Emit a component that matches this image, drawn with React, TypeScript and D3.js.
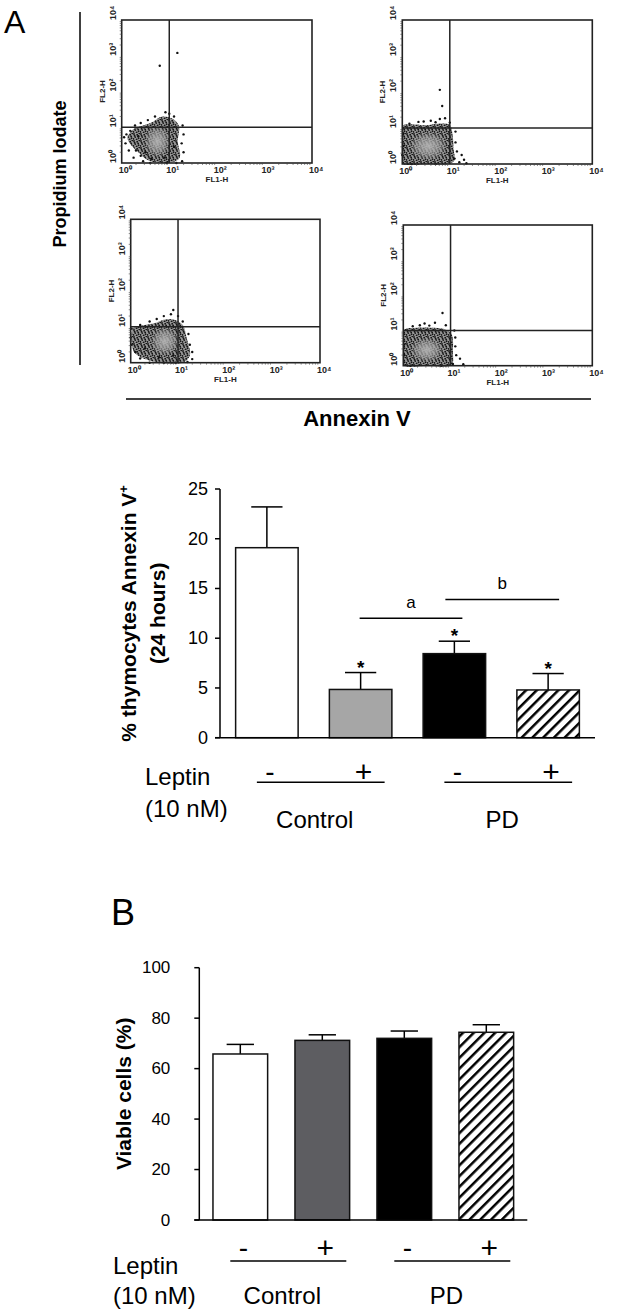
import React from "react";
import * as d3 from "d3";

// bar groups, left to right
const groups = ["Control -", "Control +", "PD -", "PD +"];
const leptinSigns = ["-", "+", "-", "+"];
const conditions = ["Control", "PD"];

// panel A: % thymocytes Annexin V+ (24 hours)
const annexinMean = [19.1, 4.85, 8.45, 4.8];
const annexinSem = [4.1, 1.7, 1.25, 1.65];
const annexinStar = [false, true, true, true];
const annexinTicks = [0, 5, 10, 15, 20, 25];
const sigBars = [
  { label: "a", from: 1, to: 2, level: 12 },
  { label: "b", from: 2, to: 3, level: 13.9 },
];

// panel B: viable cells (%)
const viableMean = [65.8, 71.2, 72.0, 74.4];
const viableSem = [3.8, 2.2, 2.9, 3.0];
const viableTicks = [0, 20, 40, 60, 80, 100];

// flow dot plots (FL1-H vs FL2-H), everything in decades (log10)
const flowDecades = [0, 1, 2, 3, 4];
const flowGate = [1, 1];
const flowHulls = [
  [[0.12, 0.7], [0.25, 0.95], [0.45, 1.05], [0.65, 1.15], [0.85, 1.3], [1.05, 1.25], [1.2, 1.05], [1.18, 0.6], [1.22, 0.15], [1.05, 0.02], [0.7, 0.02], [0.5, 0.12], [0.35, 0.3], [0.2, 0.5]],
  [[0.0, 0.02], [0.0, 1.05], [0.25, 1.1], [0.5, 1.08], [0.75, 1.12], [1.0, 1.08], [1.06, 0.8], [1.08, 0.4], [1.1, 0.1], [0.95, 0.0], [0.5, 0.0]],
  [[0.05, 0.35], [0.05, 0.95], [0.3, 1.05], [0.5, 1.1], [0.7, 1.2], [0.92, 1.2], [1.1, 1.05], [1.18, 0.7], [1.25, 0.2], [1.1, 0.0], [0.6, 0.0], [0.35, 0.08], [0.15, 0.2]],
  [[0.0, 0.02], [0.0, 1.0], [0.3, 1.08], [0.6, 1.08], [0.85, 1.05], [1.02, 0.9], [1.05, 0.4], [1.02, 0.02], [0.5, 0.0]],
];
const flowCores = [
  [0.75, 0.6, 0.28, 0.45],
  [0.55, 0.5, 0.4, 0.4],
  [0.72, 0.6, 0.3, 0.4],
  [0.5, 0.45, 0.35, 0.35],
];
const flowDots = [
  [[0.8, 2.72], [1.17, 3.08], [0.05, 0.72], [0.1, 0.8], [0.08, 0.55], [0.18, 0.9], [0.28, 1.05], [0.4, 1.12], [0.55, 1.2], [0.7, 1.3], [0.92, 1.42], [1.0, 1.38], [1.1, 1.3], [1.28, 1.05], [1.3, 0.8], [1.26, 0.55], [1.3, 0.3], [1.27, 0.05], [1.15, 0.0], [0.95, 0.0], [0.6, 0.0], [0.45, 0.05], [0.4, 0.2], [0.3, 0.35], [0.25, 0.15], [0.5, 0.3], [0.62, 0.12], [0.9, 0.15], [1.1, 0.45], [0.35, 0.75], [0.15, 0.35]],
  [[0.79, 2.06], [0.84, 1.61], [0.79, 1.25], [0.9, 1.27], [0.34, 1.17], [0.6, 1.2], [0.15, 1.12], [0.45, 1.18], [0.7, 1.16], [1.0, 1.15], [1.12, 0.9], [1.12, 0.6], [1.15, 0.35], [1.25, 0.25], [1.3, 0.12], [1.2, 0.05], [1.35, 0.02], [1.1, 0.15], [0.02, 0.5], [0.02, 0.85], [0.0, 0.25], [0.2, 0.0], [0.7, 0.0]],
  [[0.9, 1.47], [0.85, 1.35], [0.7, 1.3], [0.55, 1.22], [0.4, 1.15], [0.2, 1.05], [0.02, 0.95], [0.0, 0.7], [0.02, 0.5], [0.1, 0.3], [0.2, 0.12], [0.3, 0.4], [0.4, 0.0], [0.7, 0.0], [0.95, 0.0], [1.2, 0.02], [1.3, 0.1], [1.3, 0.3], [1.25, 0.5], [1.22, 0.8], [1.1, 1.15], [1.0, 1.3], [0.6, 0.15], [0.9, 0.2]],
  [[0.83, 1.5], [0.67, 1.22], [1.2, 0.2], [1.27, 0.04], [1.1, 0.55], [0.45, 1.2], [0.2, 1.12], [0.35, 1.15], [0.9, 1.15], [1.08, 1.0], [1.1, 0.8], [1.12, 0.3], [1.05, 0.05], [0.02, 0.6], [0.02, 0.3], [0.15, 0.0], [0.8, 0.0], [0.55, 1.14]],
];

const FONT = "'Liberation Sans', Arial, sans-serif";
const sup = ["\u2070", "\u00b9", "\u00b2", "\u00b3", "\u2074"];

// frame of each dot plot: [left, right, top, bottom]
const frames = [
  [121.7, 312, 20, 163],
  [402.3, 592.3, 20, 164],
  [130.7, 320, 219.3, 362.7],
  [403.3, 592.3, 225, 365.7],
];

// speckle layout inside one 7px pattern tile
const speckle = [[1, 1], [4.2, 1.8], [2.3, 4.1], [5.6, 5.2], [0.4, 5.9], [3.6, 6.4], [6.3, 0.3], [5.2, 3.4], [1.6, 2.7]];

function FlowPlot({ i }: { i: number }) {
  const [x0, x1, y0, y1] = frames[i];
  const x = d3.scaleLog().domain([1, 1e4]).range([x0, x1]);
  const y = d3.scaleLog().domain([1, 1e4]).range([y1, y0]);
  const px = (v: number) => x(Math.pow(10, v));
  const py = (v: number) => y(Math.pow(10, v));
  const hull = d3.line().curve(d3.curveCatmullRomClosed)(
    flowHulls[i].map(([a, b]) => [px(a), py(b)] as [number, number])
  );
  const [cx, cy, rx, ry] = flowCores[i];
  const minor: number[] = [];
  for (let d = 0; d < 4; d++) for (let m = 2; m < 10; m++) minor.push(Math.pow(10, d) * m);
  return (
    <g>
      <defs>
        <clipPath id={`clip${i}`}>
          <rect x={x0} y={y0} width={x1 - x0} height={y1 - y0 + 1} />
        </clipPath>
      </defs>
      <g clipPath={`url(#clip${i})`}>
        <path d={hull || ""} fill="url(#speckle)" />
        <ellipse cx={px(cx)} cy={py(cy)} rx={px(cx + rx) - px(cx)} ry={py(cy) - py(cy + ry)} fill="url(#core)" />
      </g>
      {flowDots[i].map(([a, b], k) => (
        <circle key={k} cx={px(a)} cy={py(b)} r={1.2} fill="#111" />
      ))}
      <rect x={x0} y={y0} width={x1 - x0} height={y1 - y0} fill="none" stroke="#222" strokeWidth={1.6} />
      <line x1={px(flowGate[0])} x2={px(flowGate[0])} y1={y0} y2={y1} stroke="#222" strokeWidth={1.5} />
      <line x1={x0} x2={x1} y1={py(flowGate[1])} y2={py(flowGate[1])} stroke="#222" strokeWidth={1.5} />
      {minor.map((m) => (
        <g key={m}>
          <line x1={x(m)} x2={x(m)} y1={y1} y2={y1 + 2} stroke="#444" strokeWidth={0.6} />
          <line x1={x0 - 2} x2={x0} y1={y(m)} y2={y(m)} stroke="#444" strokeWidth={0.6} />
        </g>
      ))}
      {flowDecades.map((d) => (
        <g key={d} fontFamily={FONT} fontWeight="bold" fontSize={9} fill="#222">
          <text x={px(d) - 3} y={y1 + 10}>{"10" + sup[d]}</text>
          <text transform={`translate(${x0 - 6},${py(d)}) rotate(-90)`}>{"10" + sup[d]}</text>
        </g>
      ))}
      <text x={(x0 + x1) / 2} y={y1 + 19} textAnchor="middle" fontFamily={FONT} fontWeight="bold" fontSize={8} fill="#222">FL1-H</text>
      <text transform={`translate(${x0 - 17},${(y0 + y1) / 2}) rotate(-90)`} textAnchor="middle" fontFamily={FONT} fontWeight="bold" fontSize={8} fill="#222">FL2-H</text>
    </g>
  );
}

type BarCfg = {
  mean: number[];
  sem: number[];
  ticks: number[];
  max: number;
  x0: number;
  x1: number;
  yBase: number;
  yTop: number;
  fills: string[];
  tickFont: number;
  tickGap: number;
  title: string[];
  titleX: number[];
  leptinX: number;
  dy: { sign: number; line: number; leptin: number; nm: number; cond: number };
  star?: boolean[];
};

function BarPanel({ cfg }: { cfg: BarCfg }) {
  const x = d3.scaleBand().domain(groups).range([cfg.x0, cfg.x1]).paddingInner(1 / 3).paddingOuter(1 / 6);
  const y = d3.scaleLinear().domain([0, cfg.max]).range([cfg.yBase, cfg.yTop]);
  const bw = x.bandwidth();
  const cx = (k: number) => (x(groups[k]) as number) + bw / 2;
  const titleMid = (cfg.yBase + cfg.yTop) / 2;
  return (
    <g fontFamily={FONT} fill="#000">
      {cfg.mean.map((m, k) => (
        <g key={k}>
          <line x1={cx(k)} x2={cx(k)} y1={y(m)} y2={y(m + cfg.sem[k])} stroke="#000" strokeWidth={1.5} />
          <line x1={cx(k) - bw / 4} x2={cx(k) + bw / 4} y1={y(m + cfg.sem[k])} y2={y(m + cfg.sem[k])} stroke="#000" strokeWidth={1.5} />
          <rect x={x(groups[k])} y={y(m)} width={bw} height={y(0) - y(m)} fill={cfg.fills[k]} stroke="#111" strokeWidth={1.5} />
          {cfg.star && cfg.star[k] && (
            <text x={cx(k)} y={y(m + cfg.sem[k]) + 1} textAnchor="middle" fontWeight="bold" fontSize={19}>*</text>
          )}
        </g>
      ))}
      <line x1={cfg.x0} x2={cfg.x0} y1={cfg.yTop} y2={cfg.yBase} stroke="#000" strokeWidth={1.5} />
      <line x1={cfg.x0 - 5} x2={cfg.x1} y1={cfg.yBase} y2={cfg.yBase} stroke="#000" strokeWidth={1.5} />
      {cfg.ticks.map((t) => (
        <g key={t}>
          <line x1={cfg.x0 - 5} x2={cfg.x0} y1={y(t)} y2={y(t)} stroke="#000" strokeWidth={1.5} />
          <text x={cfg.x0 - cfg.tickGap} y={y(t)} textAnchor="end" dominantBaseline="central" fontSize={cfg.tickFont}>{t}</text>
        </g>
      ))}
      {cfg.title.map((line, k) => (
        <text key={k} transform={`translate(${cfg.titleX[k]},${titleMid}) rotate(-90)`} textAnchor="middle" fontWeight="bold" fontSize={21}>
          {line}
          {k === 0 && cfg.title.length > 1 && <tspan dy={-8} fontSize={13}>+</tspan>}
        </text>
      ))}
      {leptinSigns.map((s, k) => (
        <text key={k} x={cx(k) + 3} y={cfg.yBase + cfg.dy.sign} textAnchor="middle" dominantBaseline="central" fontSize={s === "+" ? 30 : 28}>{s}</text>
      ))}
      {conditions.map((c, k) => {
        const a = cx(2 * k) - 10;
        const b = cx(2 * k + 1) + 24;
        return (
          <g key={c}>
            <line x1={a} x2={b} y1={cfg.yBase + cfg.dy.line} y2={cfg.yBase + cfg.dy.line} stroke="#000" strokeWidth={1.5} />
            <text x={(a + b) / 2 - 6} y={cfg.yBase + cfg.dy.cond} textAnchor="middle" dominantBaseline="central" fontSize={24}>{c}</text>
          </g>
        );
      })}
      <text x={cfg.leptinX} y={cfg.yBase + cfg.dy.leptin} dominantBaseline="central" fontSize={24}>Leptin</text>
      <text x={cfg.leptinX} y={cfg.yBase + cfg.dy.nm} dominantBaseline="central" fontSize={24}>(10 nM)</text>
    </g>
  );
}

export default function App() {
  const annexinCfg: BarCfg = {
    mean: annexinMean,
    sem: annexinSem,
    ticks: annexinTicks,
    max: 25,
    x0: 220,
    x1: 595,
    yBase: 737.7,
    yTop: 489,
    fills: ["#fff", "#a6a6a6", "#000", "url(#hatch)"],
    tickFont: 18,
    tickGap: 12,
    title: ["% thymocytes Annexin V", "(24 hours)"],
    titleX: [136, 165],
    leptinX: 145,
    dy: { sign: 34, line: 44.6, leptin: 39, nm: 70.6, cond: 82 },
    star: annexinStar,
  };
  const viableCfg: BarCfg = {
    mean: viableMean,
    sem: viableSem,
    ticks: viableTicks,
    max: 100,
    x0: 199.3,
    x1: 527.3,
    yBase: 1220,
    yTop: 967.7,
    fills: ["#fff", "#5d5d61", "#000", "url(#hatch)"],
    tickFont: 17,
    tickGap: 29,
    title: ["Viable cells (%)"],
    titleX: [131],
    leptinX: 113,
    dy: { sign: 27, line: 41, leptin: 45, nm: 75, cond: 75 },
  };

  // significance brackets over panel A
  const xA = d3.scaleBand().domain(groups).range([annexinCfg.x0, annexinCfg.x1]).paddingInner(1 / 3).paddingOuter(1 / 6);
  const yA = d3.scaleLinear().domain([0, 25]).range([annexinCfg.yBase, annexinCfg.yTop]);
  const cA = (k: number) => (xA(groups[k]) as number) + xA.bandwidth() / 2;

  return (
    <svg width={624} height={1313} style={{ position: "absolute", left: 0, top: 0, background: "#fff" }}>
      <defs>
        <pattern id="hatch" patternUnits="userSpaceOnUse" width={7.6} height={7.6} patternTransform="rotate(45)">
          <rect width={7.6} height={7.6} fill="#fff" />
          <line x1={0} y1={0} x2={0} y2={7.6} stroke="#000" strokeWidth={5} />
        </pattern>
        <pattern id="speckle" patternUnits="userSpaceOnUse" width={7} height={7}>
          <rect width={7} height={7} fill="#9a9a9a" />
          {speckle.map(([a, b], k) => (
            <circle key={k} cx={a} cy={b} r={0.95} fill="#151515" />
          ))}
        </pattern>
        <radialGradient id="core">
          <stop offset="0%" stopColor="#b4b4b4" stopOpacity={0.95} />
          <stop offset="60%" stopColor="#a8a8a8" stopOpacity={0.6} />
          <stop offset="100%" stopColor="#a0a0a0" stopOpacity={0} />
        </radialGradient>
      </defs>

      <text x={4} y={33} fontFamily={FONT} fontSize={32}>A</text>
      <line x1={80} x2={80} y1={12} y2={365} stroke="#000" strokeWidth={1.5} />
      <text transform="translate(66,174) rotate(-90)" textAnchor="middle" fontFamily={FONT} fontWeight="bold" fontSize={18}>Propidium Iodate</text>
      {frames.map((_, i) => (
        <FlowPlot key={i} i={i} />
      ))}
      <line x1={126} x2={591} y1={399} y2={399} stroke="#000" strokeWidth={1.6} />
      <text x={357} y={426} textAnchor="middle" fontFamily={FONT} fontWeight="bold" fontSize={22}>Annexin V</text>

      <BarPanel cfg={annexinCfg} />
      {sigBars.map((s, k) => {
        const a = cA(s.from) + (k === 0 ? -1 : -9);
        const b = cA(s.to) + (k === 0 ? 8 : 11);
        return (
          <g key={s.label} fontFamily={FONT}>
            <line x1={a} x2={b} y1={yA(s.level)} y2={yA(s.level)} stroke="#000" strokeWidth={1.5} />
            <text x={(a + b) / 2} y={yA(s.level) - 10} textAnchor="middle" fontSize={17}>{s.label}</text>
          </g>
        );
      })}

      <text x={111} y={925} fontFamily={FONT} fontSize={36}>B</text>
      <BarPanel cfg={viableCfg} />
    </svg>
  );
}
